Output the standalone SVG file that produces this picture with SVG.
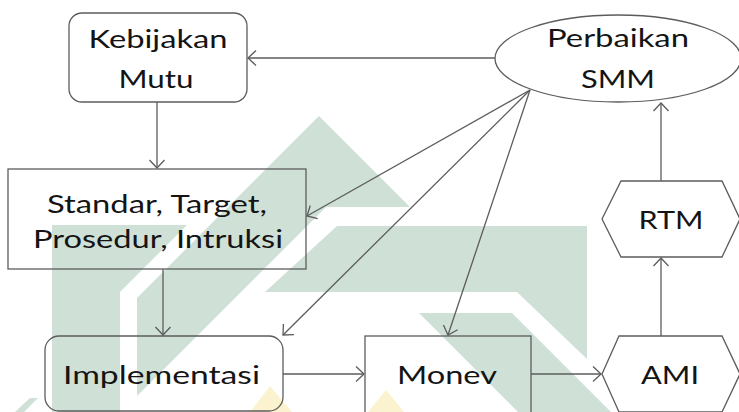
<svg xmlns="http://www.w3.org/2000/svg" width="739" height="412" viewBox="0 0 739 412">
  <defs>
    <style>
      .bg { fill: #ffffff; }
      .wm { fill: #cfe0d6; }
      .wy { fill: #fbf3cf; }
      .node { fill: none; stroke: #5c5c5c; stroke-width: 1.3; }
      .edge { fill: none; stroke: #5c5c5c; stroke-width: 1.3; marker-end: url(#ah); }
      .lbl { font-family: Lato, "Open Sans", "Liberation Sans", sans-serif; font-size: 25px; fill: #141414; text-anchor: middle; }
    </style>
    <marker id="ah" viewBox="-10 -10 12 20" refX="0" refY="0" markerWidth="12" markerHeight="20" markerUnits="userSpaceOnUse" orient="auto">
      <path d="M-8,-7.5 L0,0 L-8,7.5" fill="none" stroke="#5c5c5c" stroke-width="1.3"/>
    </marker>
  </defs>

  <rect class="bg" x="0" y="0" width="739" height="412"/>

  <!-- background emblem -->
  <g id="emblem">
    <polygon class="wm" points="319,116 410,207 326,207 137,396 137,298"/>
    <polygon class="wm" points="52,225 187,225 120,292 120,412 52,412"/>
    <polygon class="wm" points="337,226 587,226 587,359 517,292 265,292"/>
    <polygon class="wm" points="419,313 512,313 611,412 518,412"/>
    <polygon class="wm" points="30,398 38,398 24,412 15,412"/>
    <polygon class="wy" points="270,386 292,412 250,412"/>
    <polygon class="wy" points="386,390 404,412 368,412"/>
  </g>

  <g id="connectors">
    <line class="edge" x1="495" y1="58" x2="248" y2="58"/>
    <line class="edge" x1="157" y1="102" x2="157" y2="168"/>
    <line class="edge" x1="163" y1="269" x2="163" y2="335"/>
    <line class="edge" x1="530" y1="90" x2="307" y2="216"/>
    <line class="edge" x1="530" y1="90" x2="283" y2="335"/>
    <line class="edge" x1="530" y1="90" x2="448" y2="335"/>
    <line class="edge" x1="283" y1="374" x2="364" y2="374"/>
    <line class="edge" x1="531" y1="374" x2="601" y2="374"/>
    <line class="edge" x1="661" y1="336" x2="661" y2="258"/>
    <line class="edge" x1="661" y1="181" x2="661" y2="103"/>
  </g>

  <g id="kebijakan-mutu">
    <rect class="node" x="69" y="13" width="178" height="89" rx="13"/>
    <text class="lbl" x="158" y="48" textLength="139" lengthAdjust="spacingAndGlyphs">Kebijakan</text>
    <text class="lbl" x="156" y="88" textLength="75" lengthAdjust="spacingAndGlyphs">Mutu</text>
  </g>

  <g id="perbaikan-smm">
    <ellipse class="node" cx="618" cy="58.5" rx="123" ry="43.5"/>
    <text class="lbl" x="618" y="47" textLength="142" lengthAdjust="spacingAndGlyphs">Perbaikan</text>
    <text class="lbl" x="618" y="88" textLength="74" lengthAdjust="spacingAndGlyphs">SMM</text>
  </g>

  <g id="standar">
    <rect class="node" x="8" y="169" width="298" height="100"/>
    <text class="lbl" x="157" y="213" textLength="220" lengthAdjust="spacingAndGlyphs">Standar, Target,</text>
    <text class="lbl" x="158" y="248" textLength="250" lengthAdjust="spacingAndGlyphs">Prosedur, Intruksi</text>
  </g>

  <g id="implementasi">
    <rect class="node" x="45" y="336" width="238" height="75" rx="14"/>
    <text class="lbl" x="161.5" y="384" textLength="197" lengthAdjust="spacingAndGlyphs">Implementasi</text>
  </g>

  <g id="monev">
    <rect class="node" x="365" y="336" width="166" height="80"/>
    <text class="lbl" x="447" y="384" textLength="100" lengthAdjust="spacingAndGlyphs">Monev</text>
  </g>

  <g id="ami">
    <polygon class="node" points="602,374 619,336 722,336 740,374 722,412 619,412"/>
    <text class="lbl" x="670" y="384" textLength="58" lengthAdjust="spacingAndGlyphs">AMI</text>
  </g>

  <g id="rtm">
    <polygon class="node" points="602,219 621,181 722,181 740,219 722,257 621,257"/>
    <text class="lbl" x="671" y="229" textLength="65" lengthAdjust="spacingAndGlyphs">RTM</text>
  </g>
</svg>
